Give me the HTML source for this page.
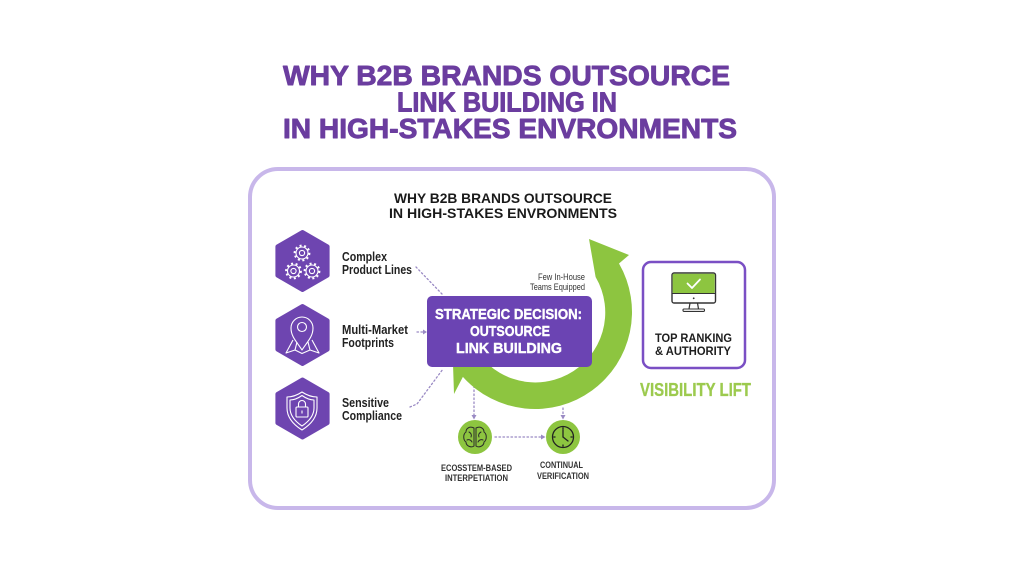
<!DOCTYPE html>
<html>
<head>
<meta charset="utf-8">
<style>
  html,body{margin:0;padding:0;background:#ffffff;}
  svg{display:block;}
  text{font-family:"Liberation Sans", Arial, sans-serif;font-weight:bold;}
</style>
</head>
<body>
<svg width="1024" height="576" viewBox="0 0 1024 576" xmlns="http://www.w3.org/2000/svg">
  <rect x="0" y="0" width="1024" height="576" fill="#ffffff"/>

  <!-- Main title -->
  <g fill="#6b3d9f" stroke="#6b3d9f" stroke-width="0.9" stroke-linejoin="round" font-size="28">
    <text x="283" y="85" textLength="447" lengthAdjust="spacingAndGlyphs">WHY B2B BRANDS OUTSOURCE</text>
    <text x="397" y="111.5" textLength="220" lengthAdjust="spacingAndGlyphs">LINK BUILDING IN</text>
    <text x="283" y="138" textLength="454" lengthAdjust="spacingAndGlyphs">IN HIGH-STAKES ENVRONMENTS</text>
  </g>

  <!-- Card -->
  <rect x="250" y="169" width="524" height="339" rx="28" ry="28" fill="#ffffff" stroke="#c8b7ea" stroke-width="4"/>

  <!-- Card subtitle -->
  <g fill="#1a1a1a" font-size="14">
    <text x="394" y="203" textLength="218" lengthAdjust="spacingAndGlyphs">WHY B2B BRANDS OUTSOURCE</text>
    <text x="389" y="218" textLength="228" lengthAdjust="spacingAndGlyphs">IN HIGH-STAKES ENVRONMENTS</text>
  </g>

  <!-- Hexagons -->
  <g fill="#6e45b0" stroke="#6e45b0" stroke-width="4" stroke-linejoin="round">
    <polygon points="302.5,232 327.6,246.5 327.6,275.5 302.5,290 277.4,275.5 277.4,246.5"/>
    <polygon points="302.5,306 327.6,320.5 327.6,349.5 302.5,364 277.4,349.5 277.4,320.5"/>
    <polygon points="302.5,379.5 327.6,394 327.6,423 302.5,437.5 277.4,423 277.4,394"/>
  </g>

  <!-- Gear icons -->
  <g fill="none" stroke="#ffffff" stroke-width="1.1">
    <circle cx="302" cy="253" r="6"/>
    <circle cx="302" cy="253" r="2.6"/>
    <circle cx="302" cy="253" r="7.4" stroke-width="2" stroke-dasharray="2 2.6"/>
    <circle cx="293.5" cy="271" r="6"/>
    <circle cx="293.5" cy="271" r="2.6"/>
    <circle cx="293.5" cy="271" r="7.4" stroke-width="2" stroke-dasharray="2 2.6"/>
    <circle cx="312" cy="271" r="6"/>
    <circle cx="312" cy="271" r="2.6"/>
    <circle cx="312" cy="271" r="7.4" stroke-width="2" stroke-dasharray="2 2.6"/>
  </g>

  <!-- Pin + map icon -->
  <g fill="none" stroke="#ffffff" stroke-width="1.1" stroke-linejoin="round">
    <path d="M302 350 C 297 342, 291 337, 291 328 A 11 11 0 0 1 313 328 C 313 337 307 342 302 350 Z"/>
    <circle cx="302" cy="327" r="4.5"/>
    <polyline points="293,340 286,353 295,350 302,353.5 310,350 319,353 312,340"/>
    <line x1="295" y1="350" x2="297" y2="342"/>
    <line x1="310" y1="350" x2="308" y2="342"/>
  </g>

  <!-- Shield + lock icon -->
  <g fill="none" stroke="#ffffff" stroke-width="1.1" stroke-linejoin="round">
    <path d="M302 392 C 296 396, 291 397, 287 397 L 287 408 C 287 418, 294 425, 302 430 C 310 425, 317 418, 317 408 L 317 397 C 313 397, 308 396, 302 392 Z"/>
    <path d="M302 395.5 C 297 399, 293 400, 290 400 L 290 408 C 290 416, 296 422, 302 426 C 308 422, 314 416, 314 408 L 314 400 C 311 400, 307 399, 302 395.5 Z"/>
    <rect x="296" y="407" width="12" height="10" rx="1"/>
    <path d="M298.5 407 v-3 a3.5 3.5 0 0 1 7 0 v3"/>
    <line x1="302" y1="410.5" x2="302" y2="413.5"/>
  </g>

  <!-- Left labels -->
  <g fill="#222222" font-size="12.5">
    <text x="342" y="261" textLength="45" lengthAdjust="spacingAndGlyphs">Complex</text>
    <text x="342" y="274" textLength="70" lengthAdjust="spacingAndGlyphs">Product Lines</text>
    <text x="342" y="334" textLength="66" lengthAdjust="spacingAndGlyphs">Multi-Market</text>
    <text x="342" y="347" textLength="52" lengthAdjust="spacingAndGlyphs">Footprints</text>
    <text x="342" y="407" textLength="47" lengthAdjust="spacingAndGlyphs">Sensitive</text>
    <text x="342" y="420" textLength="60" lengthAdjust="spacingAndGlyphs">Compliance</text>
  </g>

  <!-- Dotted connectors -->
  <g fill="none" stroke="#9a8ac4" stroke-width="1.3" stroke-dasharray="1.5 2.5" stroke-linecap="round">
    <line x1="416" y1="267" x2="442" y2="294"/>
    <line x1="417" y1="332" x2="423" y2="332"/>
    <polyline points="410,407 417,404 443,369"/>
    <line x1="474" y1="370" x2="474" y2="416"/>
    <line x1="563" y1="408" x2="563" y2="416"/>
    <line x1="495" y1="437" x2="541" y2="437"/>
  </g>
  <g fill="#9a8ac4">
    <polygon points="423,329.5 427,332 423,334.5"/>
    <polygon points="471.5,415 476.5,415 474,419.5"/>
    <polygon points="560.5,415 565.5,415 563,419.5"/>
    <polygon points="541,434.5 545.5,437 541,439.5"/>
  </g>

  <!-- Green circular arrow -->
  <path d="M595.6 277 L 589 239 L 629 255 L 619 263.5 A 97 97 0 0 1 462.9 376.9 L 454 394 L 452 334 L 471.6 341.6 A 70 70 0 1 0 595.6 277 Z" fill="#8dc540"/>

  <!-- Few In-House -->
  <g fill="#333333" font-size="9" text-anchor="end">
    <text x="585" y="280" textLength="47" lengthAdjust="spacingAndGlyphs" style="font-weight:normal">Few In-House</text>
    <text x="585" y="290" textLength="55" lengthAdjust="spacingAndGlyphs" style="font-weight:normal">Teams Equipped</text>
  </g>

  <!-- Strategic decision box -->
  <rect x="427" y="296" width="165" height="71" rx="5" ry="5" fill="#6b44b3"/>
  <g fill="#ffffff" stroke="#ffffff" stroke-width="0.4" font-size="15">
    <text x="435" y="319" textLength="147" lengthAdjust="spacingAndGlyphs">STRATEGIC DECISION:</text>
    <text x="470" y="336" textLength="80" lengthAdjust="spacingAndGlyphs">OUTSOURCE</text>
    <text x="456" y="353" textLength="106" lengthAdjust="spacingAndGlyphs">LINK BUILDING</text>
  </g>

  <!-- Bottom circles -->
  <circle cx="475" cy="437" r="17" fill="#8dc540"/>
  <circle cx="563" cy="437" r="17" fill="#8dc540"/>

  <!-- Brain icon -->
  <g fill="none" stroke="#2a2a2a" stroke-width="1" stroke-linecap="round">
    <path d="M474 428 C 470 426, 466 428, 466 432 C 463 434, 463 440, 466 442 C 466 446, 471 448, 474 446 Z"/>
    <path d="M476 428 C 480 426, 484 428, 484 432 C 487 434, 487 440, 484 442 C 484 446, 479 448, 476 446 Z"/>
    <path d="M469 432 c 2 1, 3 3, 2 5 M 467 440 c 2 -1, 4 0, 5 2 M 481 432 c -2 1, -3 3, -2 5 M 483 440 c -2 -1, -4 0, -5 2"/>
  </g>

  <!-- Clock icon -->
  <g fill="none" stroke="#222222" stroke-width="1.3" stroke-linecap="round">
    <circle cx="563" cy="437" r="10.5"/>
    <line x1="563" y1="437" x2="563" y2="430"/>
    <line x1="563" y1="437" x2="568" y2="441"/>
    <line x1="563" y1="427.8" x2="563" y2="429"/>
    <line x1="563" y1="445" x2="563" y2="446.2"/>
    <line x1="553.8" y1="437" x2="555" y2="437"/>
    <line x1="571" y1="437" x2="572.2" y2="437"/>
  </g>

  <!-- Bottom labels -->
  <g fill="#333333" font-size="9.5">
    <text x="441" y="471" textLength="71" lengthAdjust="spacingAndGlyphs">ECOSSTEM-BASED</text>
    <text x="445" y="481" textLength="63" lengthAdjust="spacingAndGlyphs">INTERPETIATION</text>
    <text x="540" y="468" textLength="43" lengthAdjust="spacingAndGlyphs">CONTINUAL</text>
    <text x="537" y="479" textLength="52" lengthAdjust="spacingAndGlyphs">VERIFICATION</text>
  </g>

  <!-- Top ranking card -->
  <rect x="643" y="262" width="102" height="106" rx="8" ry="8" fill="#ffffff" stroke="#7a4fc4" stroke-width="2.5"/>
  <!-- Monitor -->
  <rect x="672" y="273" width="43.5" height="30" rx="2" fill="#ffffff" stroke="#333333" stroke-width="1.4"/>
  <rect x="672.7" y="273.7" width="42" height="19.5" rx="1.2" fill="#8dc540"/>
  <line x1="672" y1="293.5" x2="715.5" y2="293.5" stroke="#333333" stroke-width="1"/>
  <circle cx="693.7" cy="298.3" r="0.9" fill="#333333"/>
  <path d="M690 303 L 689 309 M 697.5 303 L 698.5 309" stroke="#333333" stroke-width="1.2" fill="none"/>
  <rect x="683" y="309" width="21.5" height="2.4" rx="1" fill="none" stroke="#333333" stroke-width="1.1"/>
  <polyline points="687.5,283.5 692,288 700,279.5" fill="none" stroke="#ffffff" stroke-width="1.8" stroke-linecap="round" stroke-linejoin="round"/>
  <g fill="#1e1e1e" font-size="12">
    <text x="655" y="342" textLength="77" lengthAdjust="spacingAndGlyphs">TOP RANKING</text>
    <text x="655" y="355" textLength="76" lengthAdjust="spacingAndGlyphs">&amp; AUTHORITY</text>
  </g>
  <text x="640" y="396" font-size="18" fill="#9cca4e" stroke="#9cca4e" stroke-width="0.3" textLength="111" lengthAdjust="spacingAndGlyphs">VISIBILITY LIFT</text>
</svg>
</body>
</html>
